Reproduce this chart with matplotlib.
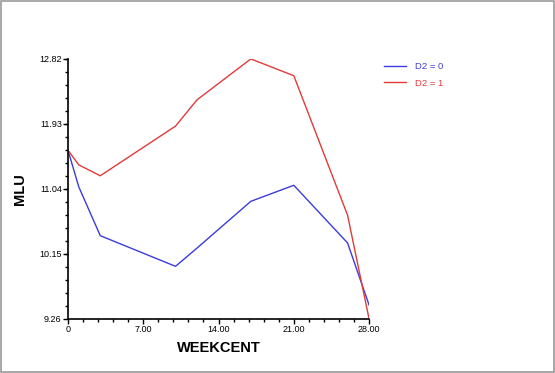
import numpy as np
import matplotlib
matplotlib.use("Agg")
from matplotlib import pyplot as plt
from matplotlib.ticker import MultipleLocator

plt.rcParams['font.family'] = ['Liberation Sans', 'DejaVu Sans']

# data
week = [0, 1, 3, 10, 12, 17, 21, 26, 28]
mlu_d0 = [11.57, 11.07, 10.40, 9.98, 10.23, 10.87, 11.09, 10.30, 9.45]
mlu_d1 = [11.57, 11.37, 11.22, 11.90, 12.26, 12.82, 12.59, 10.68, 9.26]
xticks = [0, 7, 14, 21, 28]
xtick_labels = ["0", "7.00", "14.00", "21.00", "28.00"]
yticks = [9.26, 10.15, 11.04, 11.93, 12.82]
ytick_labels = ["9.26", "10.15", "11.04", "11.93", "12.82"]

fig = plt.figure(figsize=(5.55, 3.73), dpi=100)
ax = fig.add_axes([0.1225, 0.145, 0.5425, 0.697])

ax.plot(week, mlu_d0, color="#3b3bdf", lw=1.0, label="D2 = 0")
ax.plot(week, mlu_d1, color="#e23a3a", lw=1.0, label="D2 = 1")

ax.set_xlim(0, 28)
ax.set_ylim(9.26, 12.82)
ax.set_xticks(xticks)
ax.set_xticklabels(xtick_labels)
ax.set_yticks(yticks)
ax.set_yticklabels(ytick_labels)
ax.xaxis.set_minor_locator(MultipleLocator(1.4))
ax.yaxis.set_minor_locator(MultipleLocator(0.178))
ax.tick_params(which="major", direction="out", length=3.5, width=1, labelsize=6.5, pad=1)
ax.tick_params(which="minor", direction="out", length=2.5, width=1)

for s in ["top", "right"]:
    ax.spines[s].set_visible(False)
for s in ["left", "bottom"]:
    ax.spines[s].set_linewidth(1.2)

ax.set_xlabel("WEEKCENT", fontsize=10.5, fontweight="bold", labelpad=5)
ax.set_ylabel("MLU", fontsize=10.5, fontweight="bold", labelpad=9)

leg = ax.legend(loc="upper left", bbox_to_anchor=(1.02, 1.02), frameon=False,
                fontsize=6.8, handlelength=2.4, handletextpad=0.9, labelspacing=0.8)
for txt, ln in zip(leg.get_texts(), leg.get_lines()):
    txt.set_color(ln.get_color())

# grey outer frame
fig.patches.append(plt.Rectangle((0.002, 0.003), 0.996, 0.994, transform=fig.transFigure,
                                 fill=False, edgecolor="#9a9a9a", lw=1.2))

fig.savefig("out.png", dpi=100)
